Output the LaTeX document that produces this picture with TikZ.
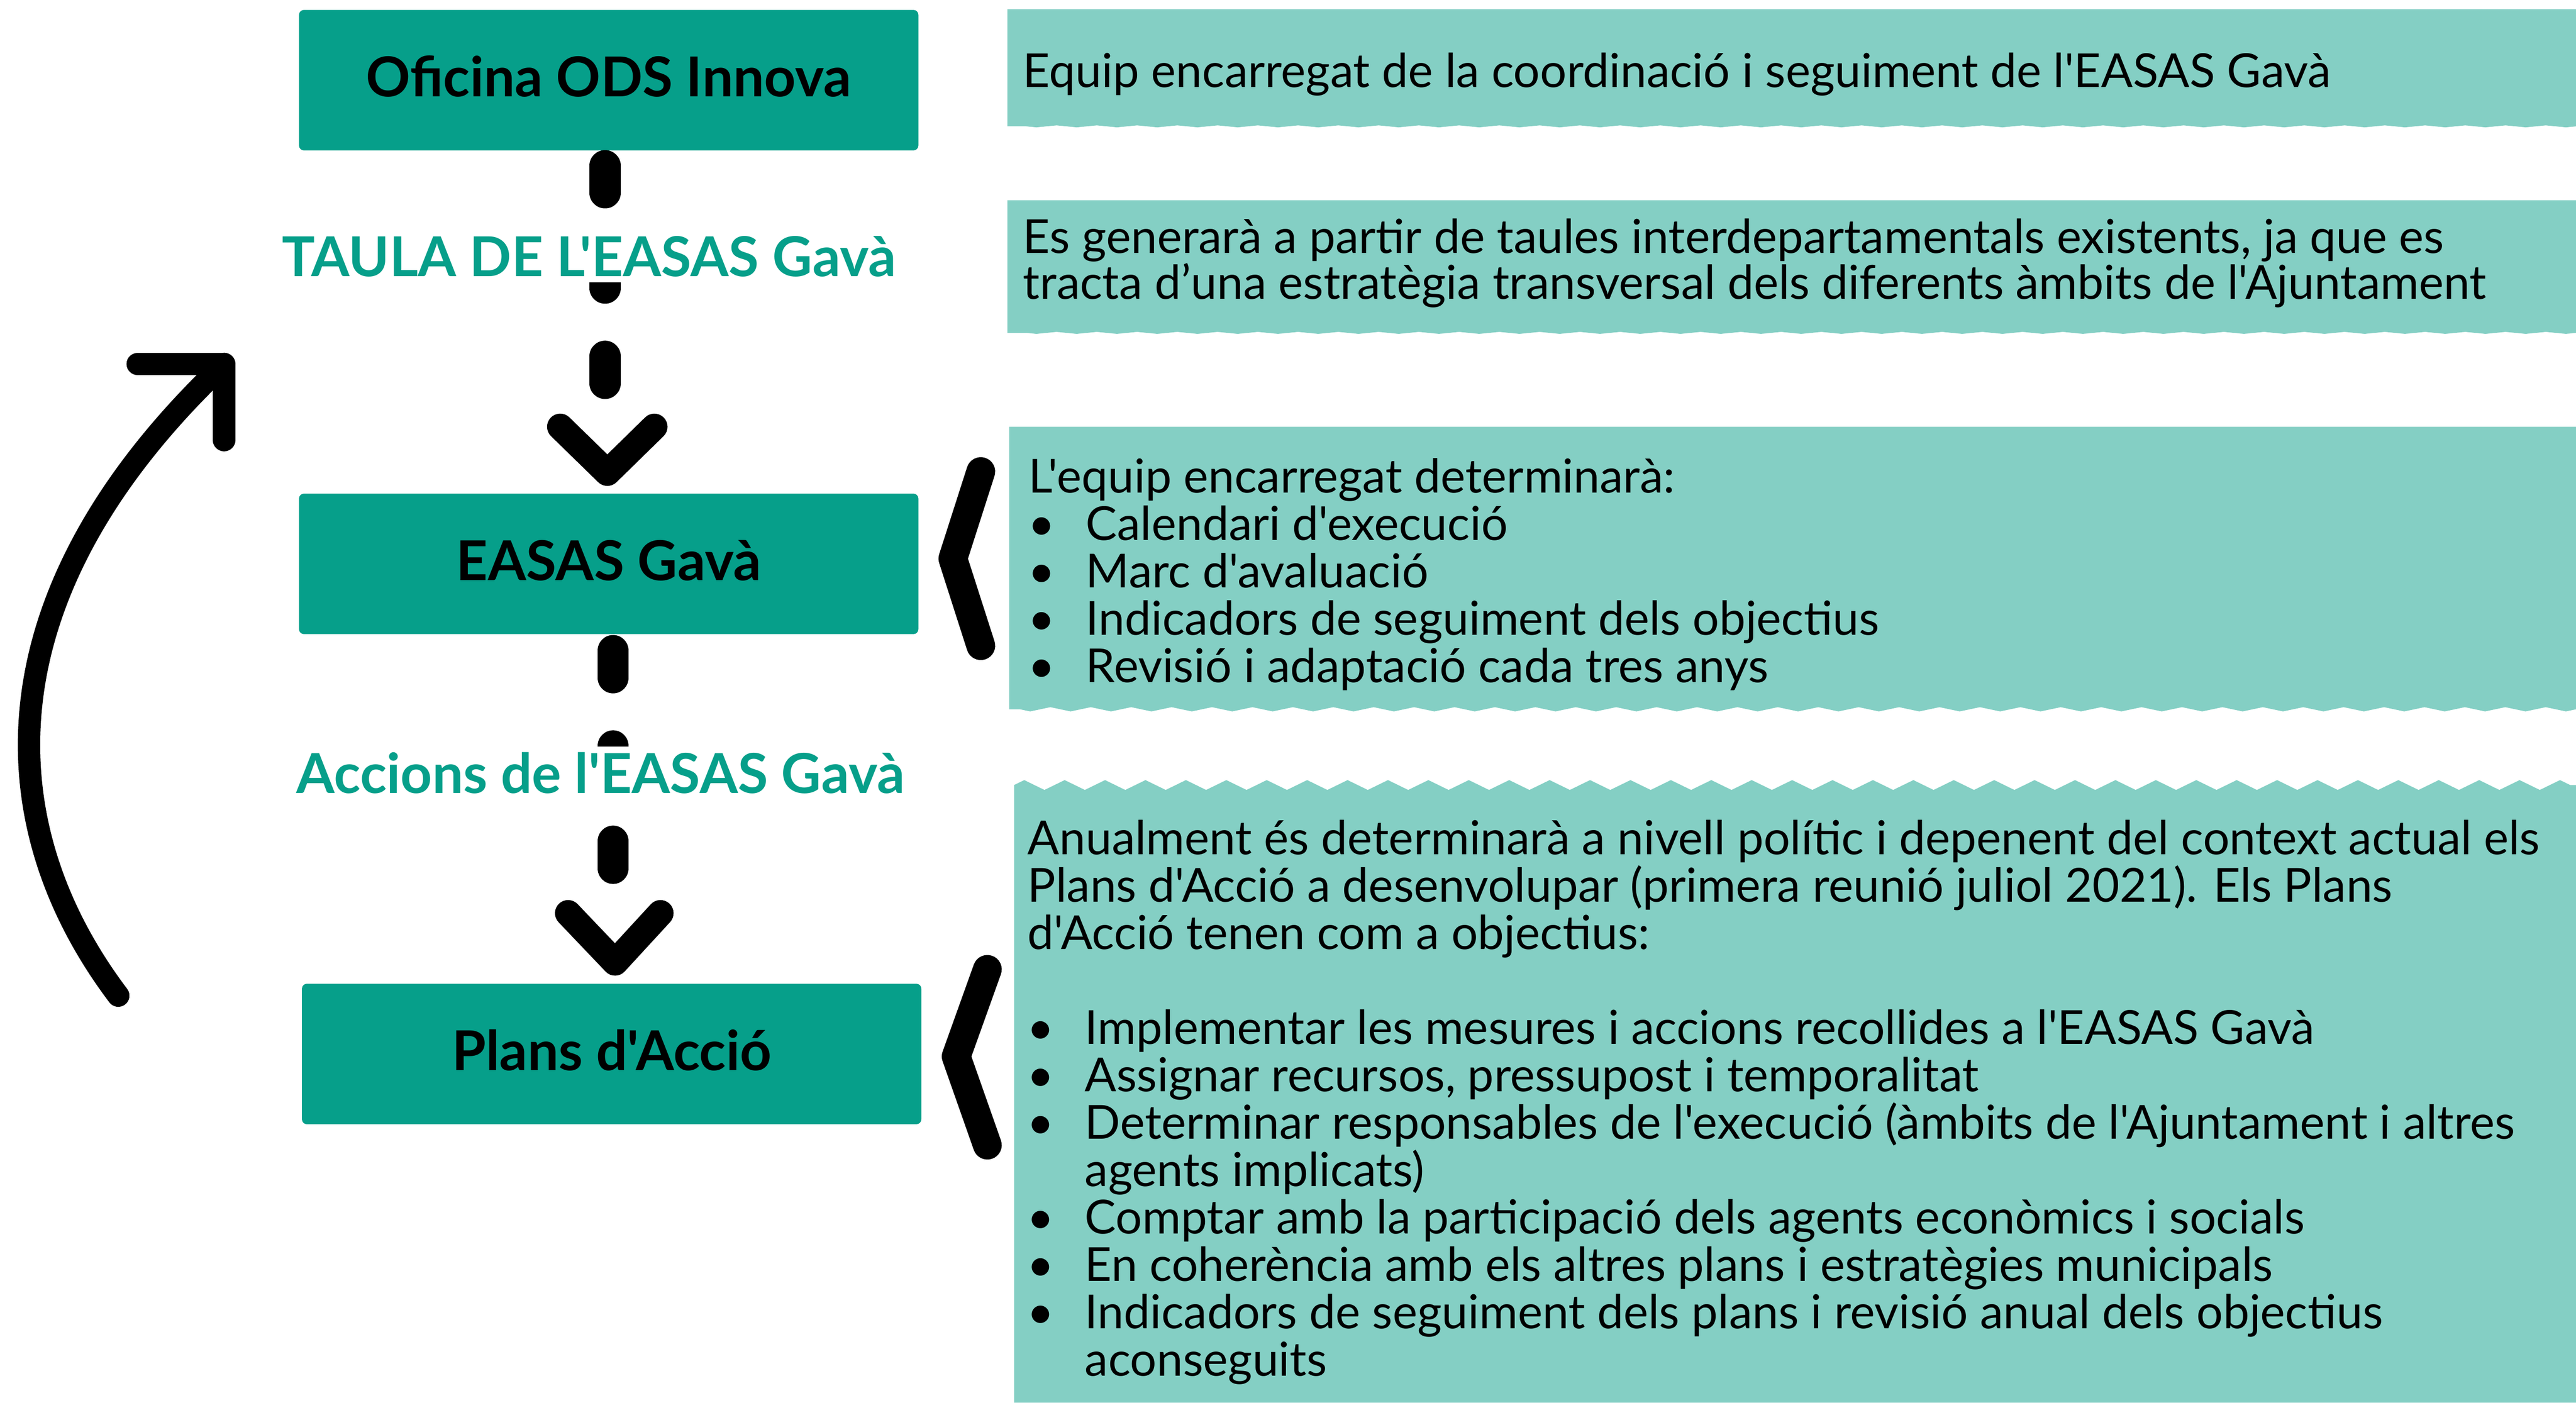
\documentclass[tikz,border=0pt]{standalone}
\usepackage{fontspec}
\setmainfont{Lato}[Ligatures=TeXOff]
\usetikzlibrary{positioning,decorations.pathmorphing}
\definecolor{odsdark}{HTML}{069F8A}
\definecolor{odslight}{HTML}{84CFC4}
\newcommand\firstline{\rule{0pt}{26pt}}
\newcommand\bul{\makebox[34.8pt][l]{\makebox[15.6pt]{•}}}
\newcommand\ind{\hspace*{34.8pt}}
\lineskiplimit=-100pt
\normallineskiplimit=-100pt

\begin{document}
\begin{tikzpicture}[x=1pt,y=-1pt,
    titlebox/.style={fill=odsdark, rounded corners=3pt, minimum width=377pt, minimum height=85.5pt, inner sep=0pt,
      text height=24pt, text depth=4pt, font=\fontsize{33.5}{36}\selectfont\bfseries},
    flowlabel/.style={fill=white, text=odsdark, inner sep=3.5pt, anchor=base, font=\fontsize{33.5}{36}\selectfont\bfseries},
    infotext/.style={anchor=north west, inner sep=0pt, align=left, font=\fontsize{28.55}{28.85}\selectfont},
    dashlink/.style={line width=19pt, line cap=round, dash pattern=on 16.5pt off 41.5pt},
    chevron/.style={line width=16pt, line cap=round, line join=round},
    brace/.style={line width=17.5pt, line cap=round, line join=round},
    loopline/.style={line width=13.6pt, line cap=round, line join=round}]
    \fill[white] (0,0) rectangle (1568,853.7);
    \useasboundingbox (0,0) rectangle (1568,853.7);

    \node[titlebox] at (370.5,48.8) (oficina) {Oficina ODS Innova};
    \node[titlebox, below=208.5pt of oficina] (easas) {EASAS Gavà};
    \node[titlebox, below=212.4pt of easas, xshift=1.8pt] (plans) {Plans d'Acció};

    \coordinate[below=9.1pt of oficina, xshift=-2.2pt] (a1);
    \coordinate[below=132.5pt of a1] (a2);
    \coordinate[below=54.4pt of a2, xshift=1.4pt] (tip1);
    \coordinate[below=9.85pt of easas, xshift=2.7pt] (b1);
    \coordinate[below=132.5pt of b1] (b2);
    \coordinate[below=57.3pt of b2, xshift=1.2pt] (tip2);
    \draw[dashlink] (a1) -- (a2);
    \draw[chevron] ([xshift=-28.7pt,yshift=28pt]tip1) -- (tip1) -- ([xshift=28.6pt,yshift=28pt]tip1);
    \draw[dashlink] (b1) -- (b2);
    \draw[chevron] ([xshift=-28.6pt,yshift=30pt]tip2) -- (tip2) -- ([xshift=27.6pt,yshift=30pt]tip2);
    \node[flowlabel] at (358.5,168.1) (taula) {TAULA DE L'EASAS Gavà};
    \node[flowlabel] at (365.6,482.7) (accions) {Accions de l'EASAS Gavà};

    \coordinate (loopstart) at (72,606);
    \coordinate (looptip) at (136.4,221.5);
    \draw[loopline] (loopstart) .. controls (-8,500) and (-10,360) .. (looptip);
    \draw[loopline] ([xshift=-52.6pt]looptip) -- (looptip) -- ([yshift=-46.4pt]looptip);

    \fill[odslight] (613.2,5.6) -- (1568,5.6) -- (1568,76.9)
      decorate[decoration={zigzag,segment length=24.5pt,amplitude=0.6pt}] {-- (613.2,76.9)} -- cycle;
    \fill[odslight] (613.2,121.9) -- (1568,121.9) -- (1568,202.6)
      decorate[decoration={zigzag,segment length=24.5pt,amplitude=0.6pt}] {-- (613.2,202.6)} -- cycle;
    \fill[odslight] (614.3,259.8) -- (1568,259.8) -- (1568,431.7)
      decorate[decoration={zigzag,segment length=24.6pt,amplitude=1.3pt}] {-- (614.3,431.7)} -- cycle;
    \fill[odslight] (617.3,477.8)
      decorate[decoration={zigzag,segment length=24.6pt,amplitude=3pt}] {-- (1568,477.8)}
      -- (1568,853.7) -- (617.3,853.7) -- cycle;

    \node[infotext] at (622.6,27.1) (coord) {\firstline Equip encarregat de la coordinació i seguiment de l'EASAS Gavà};
    \node[infotext, font=\fontsize{28.55}{28.1}\selectfont] at (622.6,127.8) (taules)
      {\firstline Es generarà a partir de taules interdepartamentals existents, ja que es\\
       tracta d’una estratègia transversal dels diferents àmbits de l'Ajuntament};
    \node[infotext] at (626,273.7) (equip)
      {\firstline L'equip encarregat determinarà:\\
       \bul Calendari d'execució\\
       \bul Marc d'avaluació\\
       \bul Indicadors de seguiment dels objectius\\
       \bul Revisió i adaptació cada tres anys};
    \node[infotext] at (625.4,494) (anual)
      {\firstline Anualment és determinarà a nivell polític i depenent del context actual els\\
       Plans d'Acció a desenvolupar (primera reunió juliol 2021). Els Plans\\
       d'Acció tenen com a objectius:\\[28.85pt]
       \bul Implementar les mesures i accions recollides a l'EASAS Gavà\\
       \bul Assignar recursos, pressupost i temporalitat\\
       \bul Determinar responsables de l'execució (àmbits de l'Ajuntament i altres\\
       \ind agents implicats)\\
       \bul Comptar amb la participació dels agents econòmics i socials\\
       \bul En coherència amb els altres plans i estratègies municipals\\
       \bul Indicadors de seguiment dels plans i revisió anual dels objectius\\
       \ind aconseguits};

    \draw[brace] (597,287) -- (580,340) -- (597,393);
    \draw[brace] (601,590) -- (582,643) -- (601,697);
\end{tikzpicture}
\end{document}
